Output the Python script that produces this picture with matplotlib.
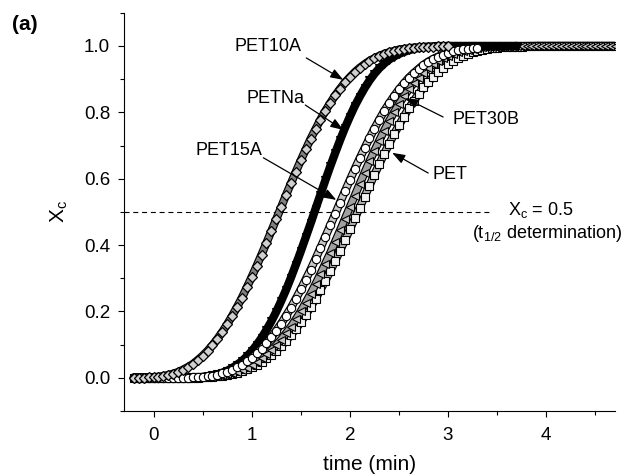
import matplotlib
matplotlib.use("Agg")
import matplotlib.pyplot as plt
from matplotlib.ticker import MultipleLocator, FormatStrFormatter

plt.rcParams['font.family'] = ['Liberation Sans', 'DejaVu Sans']
plt.rcParams['mathtext.default'] = 'regular'

# sampling times (min), shared by all curves
time_min = [-0.2, -0.15, -0.1, -0.05, 0.0, 0.05, 0.1, 0.15, 0.2, 0.25,
            0.3, 0.35, 0.4, 0.45, 0.5, 0.55, 0.6, 0.65, 0.7, 0.75,
            0.8, 0.85, 0.9, 0.95, 1.0, 1.05, 1.1, 1.15, 1.2, 1.25,
            1.3, 1.35, 1.4, 1.45, 1.5, 1.55, 1.6, 1.65, 1.7, 1.75,
            1.8, 1.85, 1.9, 1.95, 2.0, 2.05, 2.1, 2.15, 2.2, 2.25,
            2.3, 2.35, 2.4, 2.45, 2.5, 2.55, 2.6, 2.65, 2.7, 2.75,
            2.8, 2.85, 2.9, 2.95, 3.0, 3.05, 3.1, 3.15, 3.2, 3.25,
            3.3, 3.35, 3.4, 3.45, 3.5, 3.55, 3.6, 3.65, 3.7, 3.75,
            3.8, 3.85, 3.9, 3.95, 4.0, 4.05, 4.1, 4.15, 4.2, 4.25,
            4.3, 4.35, 4.4, 4.45, 4.5, 4.55, 4.6, 4.65, 4.7]

# relative crystallinity Xc (same rows as time_min)
xc_pet10a = [0.0, 0.0, 0.0, 0.001, 0.001, 0.003, 0.005, 0.008, 0.012, 0.017,
             0.024, 0.032, 0.041, 0.053, 0.066, 0.081, 0.098, 0.117, 0.138, 0.161,
             0.186, 0.213, 0.241, 0.272, 0.304, 0.337, 0.371, 0.406, 0.442, 0.478,
             0.514, 0.551, 0.586, 0.621, 0.655, 0.688, 0.720, 0.749, 0.778, 0.804,
             0.828, 0.851, 0.871, 0.890, 0.906, 0.921, 0.934, 0.945, 0.955, 0.963,
             0.970, 0.976, 0.981, 0.985, 0.989, 0.991, 0.993, 0.995, 0.996, 0.997,
             0.998, 0.998, 0.999, 0.999, 1.0]
xc_petna = [0.0, 0.0, 0.0, 0.0, 0.0, 0.0, 0.0, 0.0, 0.0, 0.0,
            0.0, 0.0, 0.001, 0.001, 0.002, 0.004, 0.007, 0.010, 0.015, 0.021,
            0.029, 0.039, 0.050, 0.064, 0.080, 0.099, 0.120, 0.144, 0.170, 0.199,
            0.231, 0.265, 0.302, 0.341, 0.381, 0.423, 0.465, 0.509, 0.552, 0.595,
            0.637, 0.677, 0.716, 0.753, 0.787, 0.819, 0.847, 0.873, 0.896, 0.916,
            0.933, 0.947, 0.959, 0.968, 0.976, 0.982, 0.987, 0.991, 0.994, 0.996,
            0.997, 0.998, 0.999, 0.999, 1.0, 1.0, 1.0, 1.0, 1.0, 1.0,
            1.0, 1.0, 1.0, 1.0, 1.0, 1.0, 1.0, 1.0, 1.0]
xc_pet15a = [0.0, 0.0, 0.0, 0.0, 0.0, 0.0, 0.0, 0.0, 0.0, 0.0,
             0.0, 0.0, 0.001, 0.001, 0.002, 0.004, 0.006, 0.009, 0.013, 0.018,
             0.024, 0.031, 0.039, 0.049, 0.060, 0.073, 0.088, 0.104, 0.122, 0.142,
             0.163, 0.187, 0.211, 0.238, 0.266, 0.296, 0.326, 0.358, 0.391, 0.425,
             0.459, 0.493, 0.528, 0.562, 0.596, 0.629, 0.661, 0.692, 0.722, 0.751,
             0.778, 0.804, 0.827, 0.849, 0.869, 0.887, 0.904, 0.918, 0.931, 0.943,
             0.953, 0.961, 0.968, 0.974, 0.980, 0.984, 0.987, 0.990, 0.992, 0.994,
             0.995]
xc_pet30b = [0.0, 0.0, 0.0, 0.0, 0.0, 0.0, 0.0, 0.0, 0.0, 0.0,
             0.0, 0.0, 0.0, 0.001, 0.001, 0.002, 0.003, 0.005, 0.007, 0.010,
             0.014, 0.018, 0.024, 0.030, 0.038, 0.047, 0.058, 0.070, 0.083, 0.098,
             0.115, 0.134, 0.154, 0.176, 0.200, 0.226, 0.253, 0.282, 0.312, 0.344,
             0.376, 0.410, 0.444, 0.479, 0.514, 0.549, 0.584, 0.618, 0.652, 0.684,
             0.715, 0.745, 0.774, 0.800, 0.825, 0.848, 0.869, 0.888, 0.905, 0.920,
             0.934, 0.945, 0.955, 0.964, 0.971, 0.977, 0.982, 0.986, 0.989, 0.992,
             0.994, 0.996, 0.997, 0.997, 0.998, 0.998, 0.999, 0.999, 1.0, 1.0,
             1.0, 1.0, 1.0, 1.0, 1.0, 1.0, 1.0, 1.0, 1.0, 1.0,
             1.0, 1.0, 1.0, 1.0, 1.0, 1.0, 1.0, 1.0, 1.0]
xc_pet = [0.0, 0.0, 0.0, 0.0, 0.0, 0.0, 0.0, 0.0, 0.0, 0.0,
          0.0, 0.0, 0.0, 0.0, 0.001, 0.002, 0.003, 0.004, 0.006, 0.008,
          0.011, 0.015, 0.020, 0.025, 0.031, 0.039, 0.048, 0.058, 0.069, 0.082,
          0.096, 0.111, 0.129, 0.147, 0.168, 0.190, 0.213, 0.238, 0.265, 0.292,
          0.321, 0.352, 0.383, 0.415, 0.447, 0.480, 0.513, 0.546, 0.579, 0.612,
          0.644, 0.675, 0.705, 0.734, 0.761, 0.787, 0.812, 0.834, 0.855, 0.875,
          0.892, 0.908, 0.922, 0.934, 0.945, 0.955, 0.963, 0.970, 0.976, 0.981,
          0.985, 0.988, 0.991, 0.993, 0.995, 0.996, 0.997, 0.997, 0.998, 0.998,
          0.999, 0.999, 1.0, 1.0, 1.0, 1.0, 1.0, 1.0, 1.0, 1.0,
          1.0, 1.0, 1.0, 1.0, 1.0, 1.0, 1.0, 1.0, 1.0]

# label text, text centre, arrow start, arrow tip (data coords)
labels = ['PET10A', 'PETNa', 'PET15A', 'PET30B', 'PET']
label_pos = [(1.17, 0.997), (1.24, 0.843), (0.77, 0.684), (3.39, 0.777), (3.02, 0.614)]
arrow_from = [(1.556, 0.964), (1.546, 0.822), (1.119, 0.663), (2.950, 0.786), (2.798, 0.617)]
arrow_to = [(1.933, 0.898), (1.933, 0.747), (1.862, 0.536), (2.564, 0.843), (2.431, 0.678)]

fig = plt.figure(figsize=(6.3, 4.75), dpi=100)
ax = fig.add_axes([0.197, 0.135, 0.779, 0.838])


def draw_curve(xc, marker, ms, face, band, z, mew=0.8):
    t = time_min[:len(xc)]
    ax.plot(t, xc, '-', color='k', lw=6.0, solid_capstyle='round', zorder=z)
    ax.plot(t, xc, '-', color=band, lw=4.3, solid_capstyle='round', zorder=z)
    ax.plot(t, xc, ls='none', marker=marker, ms=ms, mfc=face, mec='k', mew=mew, zorder=z)


draw_curve(xc_pet, 's', 5.5, '#f2f2f2', '#b0b0b0', 2)
draw_curve(xc_pet30b, '<', 6, '#c8c8c8', '#a0a0a0', 3)
draw_curve(xc_petna, 'v', 6, 'k', 'k', 4)
draw_curve(xc_pet15a, 'o', 6, 'white', '#c8c8c8', 5)
draw_curve(xc_pet10a, 'D', 5.2, '#d0d0d0', '#808080', 6, mew=0.9)

# t1/2 reference line
ax.plot([-0.3, 3.45], [0.5, 0.5], ls=(0, (4.5, 3.4)), lw=0.8, color='k', zorder=1)
ax.text(3.61, 0.505, 'X$_c$ = 0.5', ha='left', va='center', fontsize=13)
ax.text(3.245, 0.434, '(t$_{1/2}$ determination)', ha='left', va='center', fontsize=13)

for name, pos, a, b in zip(labels, label_pos, arrow_from, arrow_to):
    ax.text(pos[0], pos[1], name, ha='center', va='center', fontsize=13, zorder=10)
    ax.annotate('', xy=b, xytext=a,
                arrowprops=dict(arrowstyle='-|>,head_length=0.55,head_width=0.2',
                                mutation_scale=14, color='k', lw=0.9,
                                shrinkA=0, shrinkB=0), zorder=10)

ax.set_xlim(-0.3, 4.7)
ax.set_ylim(-0.1, 1.1)
ax.set_xticks([0, 1, 2, 3, 4])
ax.xaxis.set_minor_locator(MultipleLocator(0.5))
ax.set_yticks([0.0, 0.2, 0.4, 0.6, 0.8, 1.0])
ax.yaxis.set_minor_locator(MultipleLocator(0.1))
ax.yaxis.set_major_formatter(FormatStrFormatter('%.1f'))
ax.spines['top'].set_visible(False)
ax.spines['right'].set_visible(False)
ax.spines['left'].set_linewidth(0.8)
ax.spines['bottom'].set_linewidth(0.8)
ax.tick_params(which='major', direction='out', length=4.5, width=0.8, labelsize=13.5)
ax.tick_params(which='minor', direction='out', length=2.8, width=0.8)
ax.tick_params(axis='x', which='major', pad=7)
ax.tick_params(axis='y', which='major', pad=5.5)

ax.set_xlabel('time (min)', fontsize=15, labelpad=8)
ax.set_ylabel('X$_c$', fontsize=15, labelpad=10)

fig.text(0.019, 0.949, '(a)', fontsize=15, fontweight='bold', ha='left', va='center')

fig.savefig('out.png', dpi=100)
